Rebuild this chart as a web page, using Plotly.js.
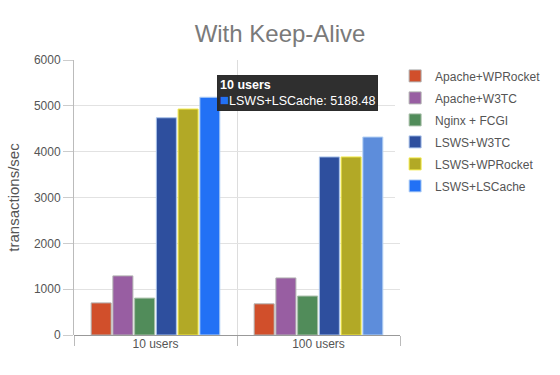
<!DOCTYPE html>
<html>
<head>
<meta charset="utf-8">
<script src="https://cdn.plot.ly/plotly-3.0.1.min.js"></script>
<style>html,body{margin:0;padding:0;background:#fff;}#chart{width:560px;height:375px;}</style>
</head>
<body>
<div id="chart"></div>
<script>
const categories = ['10 users', '100 users'];
const seriesNames = ['Apache+WPRocket', 'Apache+W3TC', 'Nginx + FCGI', 'LSWS+W3TC', 'LSWS+WPRocket', 'LSWS+LSCache'];
const apacheWPRocket = [700, 680];
const apacheW3TC = [1290, 1245];
const nginxFCGI = [805, 850];
const lswsW3TC = [4740, 3885];
const lswsWPRocket = [4930, 3885];
const lswsLSCache = [5188.48, 4320];
const seriesValues = [apacheWPRocket, apacheW3TC, nginxFCGI, lswsW3TC, lswsWPRocket, lswsLSCache];
const colors = ['#d14f2b', '#985ea2', '#518c5a', '#2e4f9e', '#b2a926', ['#2271f5', '#5d8ddb']];
const edgeColors = ['#b0b0b0', '#b0b0b0', '#a9bfa9', '#a9c2ea', '#f2e94a', '#b7d3f5'];

const traces = seriesNames.map((name, i) => ({
  type: 'bar',
  name: name,
  x: categories,
  y: seriesValues[i],
  legendgroup: 'g' + i,
  marker: {color: colors[i], line: {color: edgeColors[i], width: 1}},
  hoverinfo: 'none'
}));

const font = 'Liberation Sans, Arial, sans-serif';
const layout = {
  width: 560, height: 375,
  margin: {l: 74, r: 160, t: 60, b: 40, autoexpand: false},
  paper_bgcolor: '#fff', plot_bgcolor: '#fff',
  font: {family: font, size: 12, color: '#555'},
  title: {text: 'With Keep-Alive', font: {family: font, size: 24, color: '#7a7a7a'}, x: 0.5, xanchor: 'center', y: 0.91, yanchor: 'middle'},
  barmode: 'group',
  bargap: 0.2,
  bargroupgap: 0.08,
  showlegend: true,
  legend: {x: 0.985, xanchor: 'left', y: 0.995, yanchor: 'top', font: {family: font, size: 12, color: '#555'}, tracegroupgap: 3, traceorder: 'grouped', itemwidth: 30},
  xaxis: {
    type: 'category', tickson: 'boundaries', ticks: 'outside', ticklen: 10, tickcolor: '#bbb',
    showgrid: true, gridcolor: '#ddd', showline: false, zeroline: false,
    tickfont: {family: font, size: 12, color: '#555'}
  },
  yaxis: {
    range: [0, 6000], tickvals: [0, 1000, 2000, 3000, 4000, 5000, 6000],
    ticks: 'outside', ticklen: 10, tickcolor: '#ccc',
    showline: true, linecolor: '#bbb', linewidth: 1,
    gridcolor: '#e2e2e2', zeroline: true, zerolinecolor: '#999', zerolinewidth: 1,
    tickfont: {family: font, size: 12, color: '#555'},
    title: {text: 'transactions/sec', font: {family: font, size: 15, color: '#555'}, standoff: 10}
  },
  annotations: [{
    xref: 'paper', yref: 'paper', x: 0.44, y: 0.945, xanchor: 'left', yanchor: 'top',
    showarrow: false, align: 'left',
    text: '<b>10 users</b><br><span style="color:#2271f5;font-size:15px">■</span>LSWS+LSCache: 5188.48',
    font: {family: font, size: 12.5, color: '#fff'},
    bgcolor: 'rgba(40,40,40,0.97)', bordercolor: 'rgba(40,40,40,0.97)', borderpad: 2
  }]
};

Plotly.newPlot('chart', traces, layout, {displayModeBar: false, staticPlot: true});
</script>
</body>
</html>
